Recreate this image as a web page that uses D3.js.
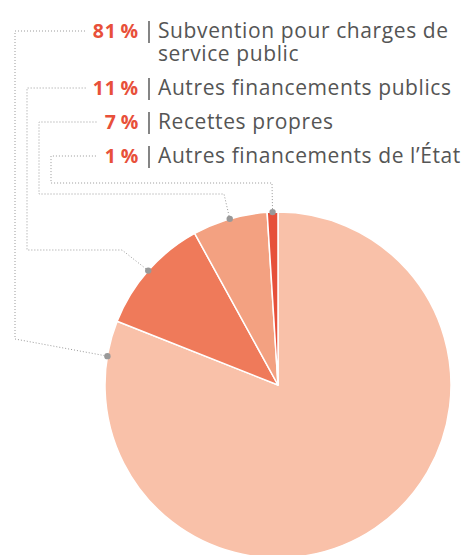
<!DOCTYPE html>
<html>
<head>
<meta charset="utf-8">
<script src="https://cdn.jsdelivr.net/npm/d3@7"></script>
<style>
  html, body { margin: 0; padding: 0; background: #fff; }
  svg { display: block; }
</style>
</head>
<body>
<div id="chart"></div>
<script>
  "use strict";

  // ---- data ----
  const categories = [
    ["Subvention pour charges de", "service public"],
    ["Autres financements publics"],
    ["Recettes propres"],
    ["Autres financements de l\u2019\u00c9tat"],
  ];
  const values = [81, 11, 7, 1];
  const percentLabels = ["81\u2009%", "11\u2009%", "7\u2009%", "1\u2009%"];
  const colors = ["#f9c1a9", "#ef7a5a", "#f3a181", "#e6503a"];

  // ---- layout ----
  const width = 466, height = 555;
  const cx = 278, cy = 385, radius = 173;
  const rowY = [31, 88, 122, 156];      // leader line height of each label row
  const sepX = 149;                      // vertical separator between % and text
  const railX = [15, 27, 39, 51];        // vertical part of each leader
  const elbows = [                       // where the diagonal from the dot ends
    { x: 15, y: 339 },
    { x: 122, y: 250 },
    { x: 224, y: 194 },
    { x: 272, y: 183 },
  ];

  const svg = d3.select("#chart")
    .append("svg")
    .attr("width", width)
    .attr("height", height);

  // =====================================================
  // PIE
  // =====================================================
  const pie = d3.pie().sort(null).value((d) => d);
  const arcs = pie(values);
  const arc = d3.arc().innerRadius(0).outerRadius(radius);

  const g = svg.append("g").attr("transform", `translate(${cx},${cy})`);

  g.selectAll("path.slice")
    .data(arcs)
    .enter()
    .append("path")
    .attr("class", "slice")
    .attr("d", arc)
    .style("fill", (d, i) => colors[i])
    .style("stroke", "#fff")
    .style("stroke-width", "1.5px")
    .style("stroke-linejoin", "round");

  // dot angle: slice middle, or near the end for the big slice
  const dotPos = arcs.map((d) => {
    const a = d.endAngle - d.startAngle > Math.PI
      ? d.endAngle - (12 * Math.PI) / 180
      : (d.startAngle + d.endAngle) / 2;
    return [cx + radius * Math.sin(a), cy - radius * Math.cos(a)];
  });

  // =====================================================
  // LABELS
  // =====================================================
  const labels = svg.append("g");

  const pctNodes = [];
  percentLabels.forEach((p, i) => {
    const baseline = rowY[i] + 7;
    const t = labels.append("text")
      .attr("x", sepX - 10)
      .attr("y", baseline)
      .attr("text-anchor", "end")
      .style("font-family", "'Open Sans', sans-serif")
      .style("font-weight", "700")
      .style("font-size", "19.5px")
      .style("letter-spacing", "0.8px")
      .style("fill", "#e8503a")
      .text(p);
    pctNodes.push(t.node());

    labels.append("line")
      .attr("x1", sepX).attr("x2", sepX)
      .attr("y1", rowY[i] - 10).attr("y2", rowY[i] + 12)
      .style("stroke", "#666")
      .style("stroke-width", "1.6px");

    categories[i].forEach((line, j) => {
      labels.append("text")
        .attr("x", sepX + 9)
        .attr("y", baseline + j * 23)
        .style("font-family", "'Open Sans', sans-serif")
        .style("font-size", "21px")
        .style("letter-spacing", "0.6px")
        .style("fill", "#555")
        .text(line);
    });
  });

  // =====================================================
  // LEADER LINES
  // =====================================================
  const leaders = svg.append("g");

  arcs.forEach((d, i) => {
    const [dx, dy] = dotPos[i];
    const endX = pctNodes[i].getBBox().x - 7;
    const pts = [
      [dx, dy],
      [elbows[i].x, elbows[i].y],
      [railX[i], elbows[i].y],
      [railX[i], rowY[i]],
      [endX, rowY[i]],
    ];
    leaders.append("path")
      .attr("d", d3.line()(pts))
      .style("fill", "none")
      .style("stroke", "#9a9a9a")
      .style("stroke-width", "1px")
      .style("stroke-dasharray", "1,2");

    leaders.append("circle")
      .attr("cx", dx)
      .attr("cy", dy)
      .attr("r", 3.2)
      .style("fill", "#999");
  });
</script>
</body>
</html>
